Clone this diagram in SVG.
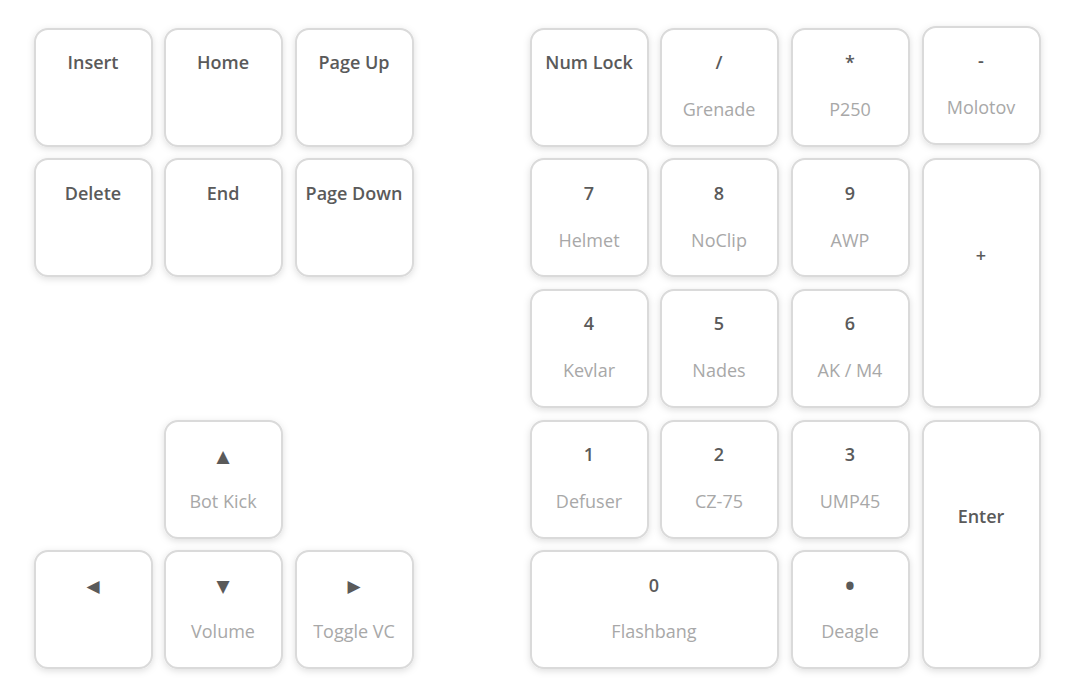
<svg xmlns="http://www.w3.org/2000/svg" width="1073" height="697" viewBox="0 0 1073 697">
<defs>
<filter id="sh" x="-20%" y="-20%" width="140%" height="140%">
<feDropShadow dx="0" dy="2" stdDeviation="3.5" flood-color="#000" flood-opacity="0.13"/>
</filter>
</defs>
<style>
.k{fill:#fff;stroke:#dadada;stroke-width:2;filter:url(#sh)}
.p{font-family:"Open Sans","Noto Sans","Liberation Sans",sans-serif;font-size:18px;font-weight:600;fill:#5a5a5a;text-anchor:middle}
.s{font-family:"Open Sans","Noto Sans","Liberation Sans",sans-serif;font-size:18px;fill:#a8a8a8;text-anchor:middle}
.g{font-family:"DejaVu Sans",sans-serif;font-size:17px;fill:#5a5a5a;text-anchor:middle}
</style>
<rect width="1073" height="697" fill="#fff"/>
<g id="insert"><rect class="k" x="35" y="29" width="117" height="117" rx="13"/><text class="p" x="93" y="69">Insert</text></g>
<g id="home"><rect class="k" x="165" y="29" width="117" height="117" rx="13"/><text class="p" x="223" y="69">Home</text></g>
<g id="pageup"><rect class="k" x="296" y="29" width="117" height="117" rx="13"/><text class="p" x="354" y="69">Page Up</text></g>
<g id="delete"><rect class="k" x="35" y="159" width="117" height="117" rx="13"/><text class="p" x="93" y="200">Delete</text></g>
<g id="end"><rect class="k" x="165" y="159" width="117" height="117" rx="13"/><text class="p" x="223" y="200">End</text></g>
<g id="pagedown"><rect class="k" x="296" y="159" width="117" height="117" rx="13"/><text class="p" x="354" y="200">Page Down</text></g>
<g id="up"><rect class="k" x="165" y="421" width="117" height="117" rx="13"/><text class="g" x="223" y="462">▲</text><text class="s" x="223" y="508">Bot Kick</text></g>
<g id="left"><rect class="k" x="35" y="551" width="117" height="117" rx="13"/><text class="g" x="93" y="592">◀</text></g>
<g id="down"><rect class="k" x="165" y="551" width="117" height="117" rx="13"/><text class="g" x="223" y="592">▼</text><text class="s" x="223" y="638">Volume</text></g>
<g id="right"><rect class="k" x="296" y="551" width="117" height="117" rx="13"/><text class="g" x="354" y="592">▶</text><text class="s" x="354" y="638">Toggle VC</text></g>
<g id="numlock"><rect class="k" x="531" y="29" width="117" height="117" rx="13"/><text class="p" x="589" y="69">Num Lock</text></g>
<g id="divide"><rect class="k" x="661" y="29" width="117" height="117" rx="13"/><text class="p" x="719" y="69">/</text><text class="s" x="719" y="116">Grenade</text></g>
<g id="multiply"><rect class="k" x="792" y="29" width="117" height="117" rx="13"/><text class="p" x="850" y="69">*</text><text class="s" x="850" y="116">P250</text></g>
<g id="minus"><rect class="k" x="923" y="27" width="117" height="117" rx="13"/><text class="p" x="981" y="67">-</text><text class="s" x="981" y="114">Molotov</text></g>
<g id="n7"><rect class="k" x="531" y="159" width="117" height="117" rx="13"/><text class="p" x="589" y="200">7</text><text class="s" x="589" y="247">Helmet</text></g>
<g id="n8"><rect class="k" x="661" y="159" width="117" height="117" rx="13"/><text class="p" x="719" y="200">8</text><text class="s" x="719" y="247">NoClip</text></g>
<g id="n9"><rect class="k" x="792" y="159" width="117" height="117" rx="13"/><text class="p" x="850" y="200">9</text><text class="s" x="850" y="247">AWP</text></g>
<g id="plus"><rect class="k" x="923" y="159" width="117" height="248" rx="13"/><text class="p" x="981" y="262">+</text></g>
<g id="n4"><rect class="k" x="531" y="290" width="117" height="117" rx="13"/><text class="p" x="589" y="330">4</text><text class="s" x="589" y="377">Kevlar</text></g>
<g id="n5"><rect class="k" x="661" y="290" width="117" height="117" rx="13"/><text class="p" x="719" y="330">5</text><text class="s" x="719" y="377">Nades</text></g>
<g id="n6"><rect class="k" x="792" y="290" width="117" height="117" rx="13"/><text class="p" x="850" y="330">6</text><text class="s" x="850" y="377">AK / M4</text></g>
<g id="n1"><rect class="k" x="531" y="421" width="117" height="117" rx="13"/><text class="p" x="589" y="461">1</text><text class="s" x="589" y="508">Defuser</text></g>
<g id="n2"><rect class="k" x="661" y="421" width="117" height="117" rx="13"/><text class="p" x="719" y="461">2</text><text class="s" x="719" y="508">CZ-75</text></g>
<g id="n3"><rect class="k" x="792" y="421" width="117" height="117" rx="13"/><text class="p" x="850" y="461">3</text><text class="s" x="850" y="508">UMP45</text></g>
<g id="enter"><rect class="k" x="923" y="421" width="117" height="247" rx="13"/><text class="p" x="981" y="523">Enter</text></g>
<g id="n0"><rect class="k" x="531" y="551" width="247" height="117" rx="13"/><text class="p" x="654" y="592">0</text><text class="s" x="654" y="638">Flashbang</text></g>
<g id="dot"><rect class="k" x="792" y="551" width="117" height="117" rx="13"/><text class="p" x="850" y="597" style="font-size:30px">•</text><text class="s" x="850" y="638">Deagle</text></g>
<g id="connectors"></g>
</svg>
